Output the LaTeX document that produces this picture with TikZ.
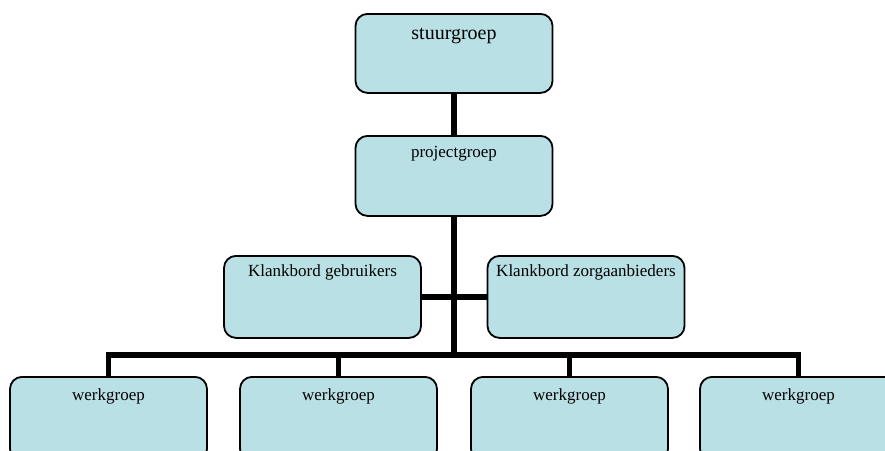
\documentclass[tikz,border=0pt]{standalone}
\usepackage{fontspec}
\setmainfont{Liberation Serif}
\definecolor{boxfill}{RGB}{185,224,228}
\tikzset{
  orgbox/.style={draw=black, line width=1.8pt, fill=boxfill, rounded corners=12pt,
    minimum width=197pt, inner xsep=0pt, inner ysep=0pt, anchor=north, align=center},
  conn/.style={line width=5.5pt, line join=miter},
  big/.style={font=\fontsize{20}{24}\selectfont},
  norm/.style={font=\fontsize{17}{20}\selectfont}
}
\begin{document}
\begin{tikzpicture}[x=1pt,y=-1pt]
\clip (0,0) rectangle (885,450);
\fill[white] (0,0) rectangle (885,450);
\node[orgbox, big, text height=25.5pt, text depth=53.5pt] (s) at (454,13) {stuurgroep};
\node[orgbox, norm, text height=21.7pt, text depth=58.3pt] (p) at (454,135) {projectgroep};
\node[orgbox, norm, text height=20.7pt, text depth=61.3pt] (kg) at (322.5,255) {Klankbord gebruikers};
\node[orgbox, norm, text height=20.7pt, text depth=61.3pt] (kz) at (586,255) {Klankbord zorgaanbieders};
\node[orgbox, norm, text height=24pt, text depth=60pt] (w1) at (108.5,376) {werkgroep};
\node[orgbox, norm, text height=24pt, text depth=60pt] (w2) at (338.5,376) {werkgroep};
\node[orgbox, norm, text height=24pt, text depth=60pt] (w3) at (569.5,376) {werkgroep};
\node[orgbox, norm, text height=24pt, text depth=60pt] (w4) at (798.5,376) {werkgroep};
\coordinate (bus) at (454,355);
\draw[conn] (s.south) -- (p.north);
\draw[conn] (p.south) -- (bus);
\draw[conn] (kg.east) -- (kz.west);
\draw[conn] (w1.north) |- (bus) -| (w4.north);
\draw[conn] (w2.north) -- (w2.north |- bus);
\draw[conn] (w3.north) -- (w3.north |- bus);
\end{tikzpicture}
\end{document}
